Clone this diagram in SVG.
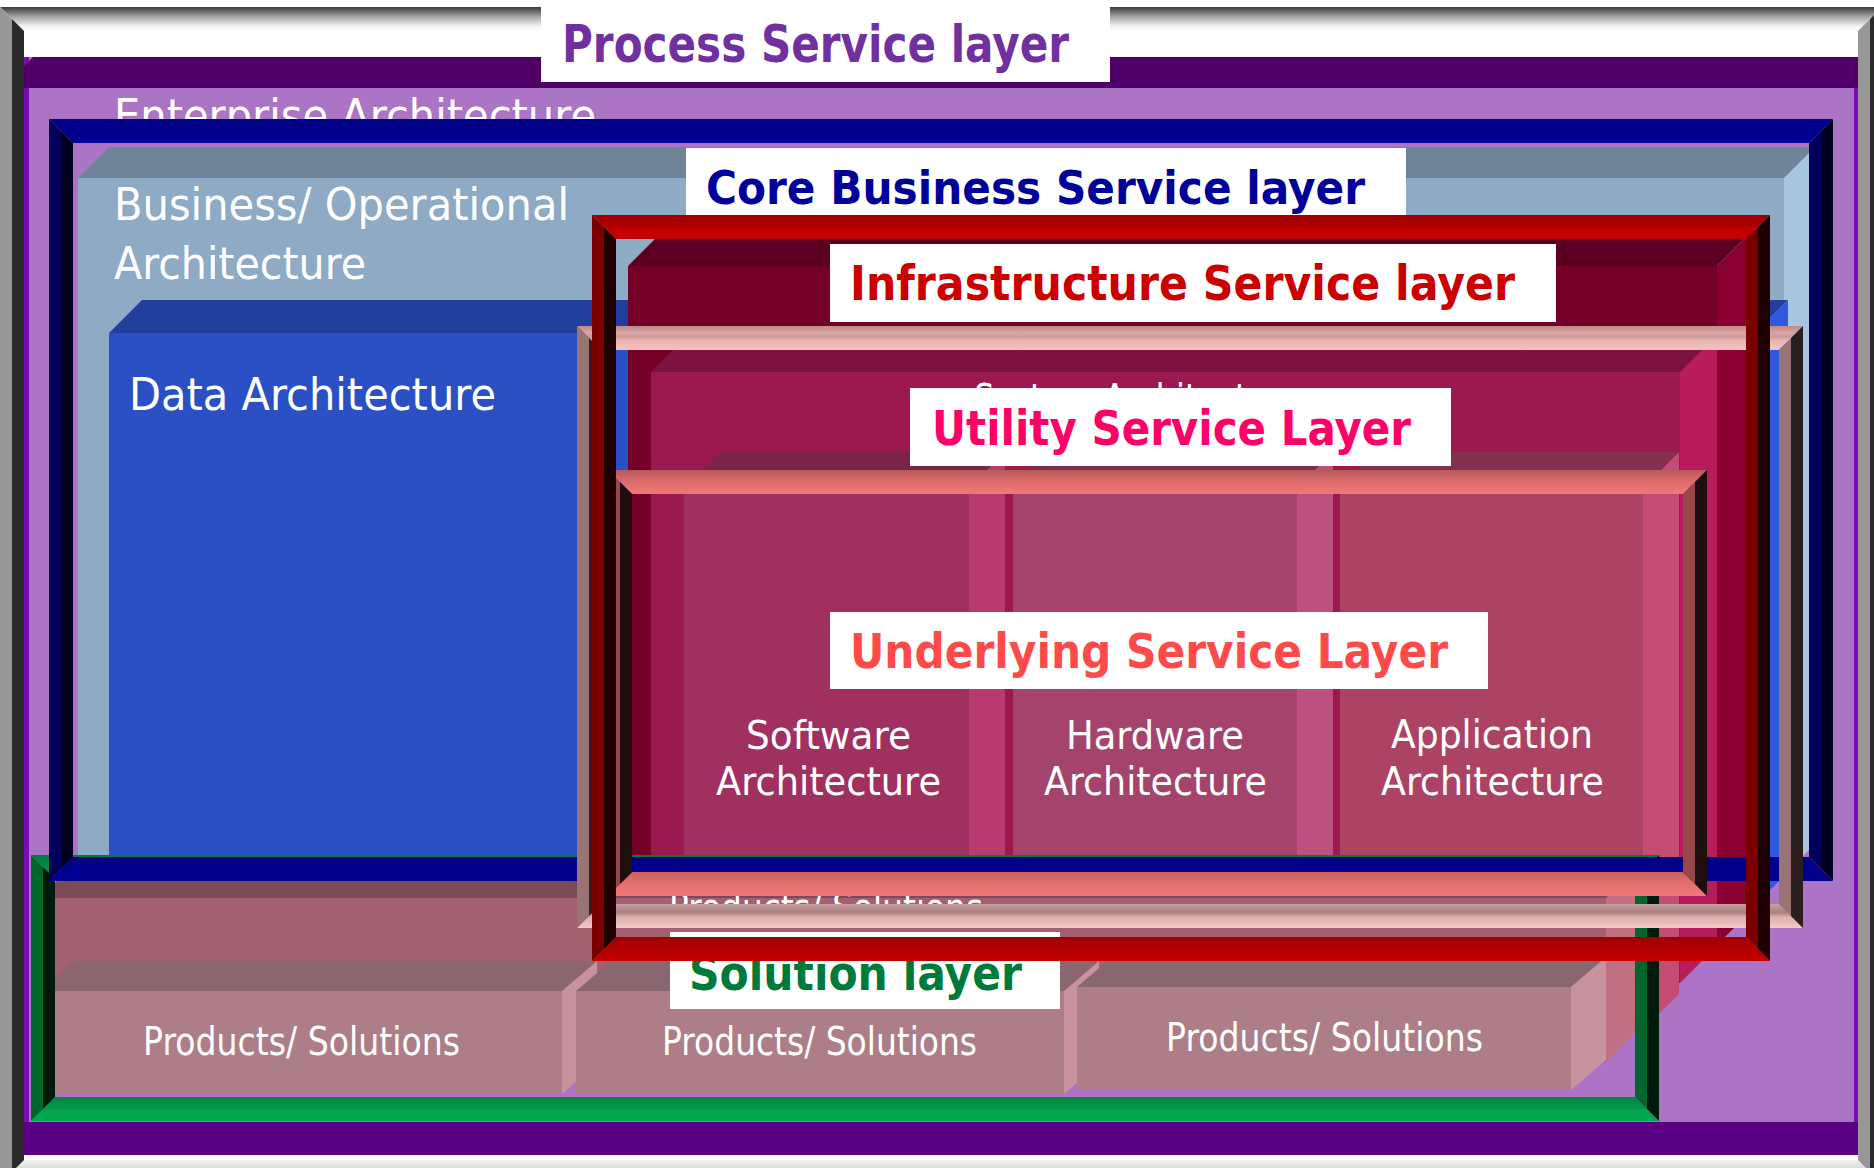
<svg xmlns="http://www.w3.org/2000/svg" width="1874" height="1168" viewBox="0 0 1874 1168">
  <defs>
    <!-- bevelled frame shading: top/bottom bands shade vertically, side bands split light|dark -->
    <linearGradient id="grayTop" x1="0" y1="0" x2="0" y2="1"><stop offset="0" stop-color="#383838"/><stop offset="0.4" stop-color="#a4a4a4"/><stop offset="0.8" stop-color="#f2f2f2"/><stop offset="1" stop-color="#ffffff"/></linearGradient>
    <linearGradient id="graySide" x1="0" y1="0" x2="1" y2="0"><stop offset="0" stop-color="#979797"/><stop offset="0.5" stop-color="#979797"/><stop offset="0.5" stop-color="#2a2a2a"/><stop offset="1" stop-color="#2a2a2a"/></linearGradient>
    <linearGradient id="grayBot" x1="0" y1="0" x2="0" y2="1"><stop offset="0" stop-color="#f0f0f0"/><stop offset="1" stop-color="#b8b8b8"/></linearGradient>

    <linearGradient id="navyTop" x1="0" y1="0" x2="0" y2="1"><stop offset="0" stop-color="#000084"/><stop offset="1" stop-color="#000094"/></linearGradient>
    <linearGradient id="navySide" x1="0" y1="0" x2="1" y2="0"><stop offset="0" stop-color="#00005c"/><stop offset="0.5" stop-color="#00005c"/><stop offset="0.5" stop-color="#00001e"/><stop offset="1" stop-color="#00001e"/></linearGradient>
    <linearGradient id="navyBot" x1="0" y1="0" x2="0" y2="1"><stop offset="0" stop-color="#000080"/><stop offset="0.5" stop-color="#000090"/><stop offset="1" stop-color="#00008a"/></linearGradient>

    <linearGradient id="greenTop" x1="0" y1="0" x2="0" y2="1"><stop offset="0" stop-color="#007a3c"/><stop offset="1" stop-color="#00a04c"/></linearGradient>
    <linearGradient id="greenSide" x1="0" y1="0" x2="1" y2="0"><stop offset="0" stop-color="#00662e"/><stop offset="0.5" stop-color="#00662e"/><stop offset="0.5" stop-color="#001a0c"/><stop offset="1" stop-color="#001a0c"/></linearGradient>
    <linearGradient id="greenBot" x1="0" y1="0" x2="0" y2="1"><stop offset="0" stop-color="#008842"/><stop offset="0.45" stop-color="#00964a"/><stop offset="0.55" stop-color="#00a44c"/><stop offset="1" stop-color="#00aa4e"/></linearGradient>

    <linearGradient id="redTop" x1="0" y1="0" x2="0" y2="1"><stop offset="0" stop-color="#9c0000"/><stop offset="0.5" stop-color="#b00000"/><stop offset="0.55" stop-color="#c40000"/><stop offset="1" stop-color="#c00000"/></linearGradient>
    <linearGradient id="redSide" x1="0" y1="0" x2="1" y2="0"><stop offset="0" stop-color="#7a0000"/><stop offset="0.5" stop-color="#7a0000"/><stop offset="0.5" stop-color="#1e0000"/><stop offset="1" stop-color="#1e0000"/></linearGradient>
    <linearGradient id="redBot" x1="0" y1="0" x2="0" y2="1"><stop offset="0" stop-color="#a00000"/><stop offset="0.5" stop-color="#b20000"/><stop offset="1" stop-color="#c60000"/></linearGradient>

    <linearGradient id="pinkTop" x1="0" y1="0" x2="0" y2="1"><stop offset="0" stop-color="#c08a8a"/><stop offset="0.3" stop-color="#dca4a4"/><stop offset="0.45" stop-color="#cc9a9a"/><stop offset="0.6" stop-color="#ecb4b4"/><stop offset="1" stop-color="#f4c2c2"/></linearGradient>
    <linearGradient id="pinkSide" x1="0" y1="0" x2="1" y2="0"><stop offset="0" stop-color="#9a7474"/><stop offset="0.5" stop-color="#9a7474"/><stop offset="0.5" stop-color="#2a1e1e"/><stop offset="1" stop-color="#2a1e1e"/></linearGradient>
    <linearGradient id="pinkBot" x1="0" y1="0" x2="0" y2="1"><stop offset="0" stop-color="#c9a0a0"/><stop offset="0.35" stop-color="#a88080"/><stop offset="0.55" stop-color="#dcb0b0"/><stop offset="1" stop-color="#f6c8c8"/></linearGradient>

    <linearGradient id="salmonTop" x1="0" y1="0" x2="0" y2="1"><stop offset="0" stop-color="#b85a5a"/><stop offset="0.5" stop-color="#e06c6c"/><stop offset="1" stop-color="#f27878"/></linearGradient>
    <linearGradient id="salmonSide" x1="0" y1="0" x2="1" y2="0"><stop offset="0" stop-color="#964848"/><stop offset="0.5" stop-color="#964848"/><stop offset="0.5" stop-color="#1e0e0e"/><stop offset="1" stop-color="#1e0e0e"/></linearGradient>
    <linearGradient id="salmonBot" x1="0" y1="0" x2="0" y2="1"><stop offset="0" stop-color="#c86060"/><stop offset="0.5" stop-color="#e47070"/><stop offset="1" stop-color="#f27676"/></linearGradient>

    <!-- the System Architecture caption only shows above the Utility label -->
    <clipPath id="sysCaptionClip"><rect x="900" y="360" width="500" height="28"/></clipPath>
  </defs>

  <style>
    .body { font-family: "DejaVu Sans", "Liberation Sans", sans-serif; fill: #ffffff; }
    .label { font-family: "DejaVu Sans", "Liberation Sans", sans-serif; font-weight: bold; }
    .box { fill: #ffffff; }
    .ps-front { fill: #ad7e88; } .ps-top { fill: #896670; } .ps-right { fill: #c8929e; }
  </style>

  <rect width="1874" height="1168" fill="#ffffff"/>

  <!-- Process Service layer: outer grey frame -->
  <g id="process-layer-frame">
    <polygon points="0,7 1882,7 1858,31 24,31" fill="url(#grayTop)"/>
    <polygon points="0,1184 1882,1184 1858,1160 24,1160" fill="url(#grayBot)"/>
    <polygon points="0,7 24,31 24,1160 0,1184" fill="url(#graySide)"/>
    <polygon points="1882,7 1858,31 1858,1160 1882,1184" fill="url(#graySide)"/>
  </g>

  <!-- Enterprise Architecture -->
  <g id="enterprise-architecture">
    <rect x="24" y="57" width="1834" height="1098" fill="#ac74c4"/>
    <rect x="24" y="57" width="5" height="1098" fill="#7a0cb0"/>
    <rect x="1854" y="57" width="4" height="1098" fill="#7a0cb0"/>
    <polygon points="24,66 33,57 1858,57 1858,88 24,88" fill="#4e0068"/>
    <rect x="24" y="1122" width="1834" height="33" fill="#5a0082"/>
    <text class="body" x="114" y="131" font-size="45" textLength="482" lengthAdjust="spacingAndGlyphs">Enterprise Architecture</text>
  </g>

  <g id="process-layer-label">
    <rect class="box" x="541" y="0" width="569" height="82"/>
    <text class="label" x="562" y="62" font-size="51" fill="#7030a0" textLength="507" lengthAdjust="spacingAndGlyphs">Process Service layer</text>
  </g>

  <!-- Business / Operational Architecture cube -->
  <g id="business-architecture">
    <rect x="78" y="178" width="1706" height="697" fill="#8eaac4"/>
    <polygon points="78,178 1784,178 1815,147 109,147" fill="#6f8499"/>
    <polygon points="1784,178 1815,147 1815,844 1784,875" fill="#a8c6e0"/>
    <text class="body" x="114" y="220" font-size="45" textLength="455" lengthAdjust="spacingAndGlyphs">Business/ Operational</text>
    <text class="body" x="114" y="279" font-size="45" textLength="252" lengthAdjust="spacingAndGlyphs">Architecture</text>
  </g>

  <!-- Data Architecture cube -->
  <g id="data-architecture">
    <rect x="109" y="333" width="1646" height="572" fill="#2a50c4"/>
    <polygon points="109,333 1755,333 1788,300 142,300" fill="#203e9a"/>
    <polygon points="1755,333 1788,300 1788,872 1755,905" fill="#2f5ae0"/>
    <text class="body" x="129" y="410" font-size="45" textLength="367" lengthAdjust="spacingAndGlyphs">Data Architecture</text>
  </g>

  <g id="core-business-layer-label">
    <rect class="box" x="686" y="148" width="720" height="82"/>
    <text class="label" x="706" y="204" font-size="47" fill="#00009a" textLength="659" lengthAdjust="spacingAndGlyphs">Core Business Service layer</text>
  </g>

  <!-- infrastructure block inside the red frame -->
  <g id="infrastructure-block">
    <rect x="628" y="266" width="1089" height="679" fill="#740028"/>
    <polygon points="628,266 1717,266 1754,229 665,229" fill="#5c0022"/>
    <polygon points="1717,266 1754,229 1754,908 1717,945" fill="#8a0030"/>
  </g>

  <!-- System Architecture cube -->
  <g id="system-architecture">
    <rect x="651" y="372" width="1029" height="611" fill="#9c1850"/>
    <polygon points="651,372 1680,372 1717,335 688,335" fill="#7c1240"/>
    <polygon points="1680,372 1717,335 1717,946 1680,983" fill="#b81c5c"/>
    <text class="body" x="974" y="413" font-size="40" textLength="326" lengthAdjust="spacingAndGlyphs" clip-path="url(#sysCaptionClip)">System Architecture</text>
  </g>

  <!-- Software / Hardware / Application cubes -->
  <g id="software-architecture">
    <rect x="684" y="488" width="285" height="542" fill="#a03060"/>
    <polygon points="684,488 969,488 1005,452 720,452" fill="#7a2448"/>
    <polygon points="969,488 1005,452 1005,994 969,1030" fill="#b83a70"/>
    <text class="body" x="746" y="749" font-size="39" textLength="165" lengthAdjust="spacingAndGlyphs">Software</text>
    <text class="body" x="716" y="795" font-size="39" textLength="225" lengthAdjust="spacingAndGlyphs">Architecture</text>
  </g>
  <g id="hardware-architecture">
    <rect x="1013" y="488" width="284" height="542" fill="#a4446c"/>
    <polygon points="1013,488 1297,488 1333,452 1049,452" fill="#7e2c50"/>
    <polygon points="1297,488 1333,452 1333,994 1297,1030" fill="#bc5080"/>
    <text class="body" x="1066" y="749" font-size="39" textLength="178" lengthAdjust="spacingAndGlyphs">Hardware</text>
    <text class="body" x="1044" y="795" font-size="39" textLength="223" lengthAdjust="spacingAndGlyphs">Architecture</text>
  </g>
  <g id="application-architecture">
    <rect x="1340" y="488" width="303" height="542" fill="#ac4264"/>
    <polygon points="1340,488 1643,488 1679,452 1376,452" fill="#82304c"/>
    <polygon points="1643,488 1679,452 1679,994 1643,1030" fill="#c44c74"/>
    <text class="body" x="1391" y="748" font-size="39" textLength="202" lengthAdjust="spacingAndGlyphs">Application</text>
    <text class="body" x="1381" y="795" font-size="39" textLength="223" lengthAdjust="spacingAndGlyphs">Architecture</text>
  </g>

  <!-- Products / Solutions cubes -->
  <g id="products-back">
    <rect x="40" y="898" width="1566" height="164" fill="#a36070"/>
    <polygon points="40,898 1606,898 1639,865 73,865" fill="#7f4a58"/>
    <polygon points="1606,898 1639,865 1639,1029 1606,1062" fill="#c07080"/>
    <text class="body" x="669" y="921" font-size="38.5" textLength="314" lengthAdjust="spacingAndGlyphs">Products/ Solutions</text>
  </g>
  <g id="products-1">
    <rect class="ps-front" x="40" y="991" width="522" height="103"/>
    <polygon class="ps-top" points="40,991 562,991 597,961 75,961"/>
    <polygon class="ps-right" points="562,991 597,961 597,1064 562,1094"/>
    <text class="body" x="143" y="1055" font-size="38.5" textLength="317" lengthAdjust="spacingAndGlyphs">Products/ Solutions</text>
  </g>
  <g id="products-2">
    <rect class="ps-front" x="576" y="991" width="488" height="103"/>
    <polygon class="ps-top" points="576,991 1064,991 1099,961 611,961"/>
    <polygon class="ps-right" points="1064,991 1099,961 1099,1064 1064,1094"/>
    <text class="body" x="662" y="1055" font-size="38.5" textLength="315" lengthAdjust="spacingAndGlyphs">Products/ Solutions</text>
  </g>
  <g id="products-3">
    <rect class="ps-front" x="1077" y="987" width="494" height="103"/>
    <polygon class="ps-top" points="1077,987 1571,987 1606,957 1112,957"/>
    <polygon class="ps-right" points="1571,987 1606,957 1606,1060 1571,1090"/>
    <text class="body" x="1166" y="1051" font-size="38.5" textLength="317" lengthAdjust="spacingAndGlyphs">Products/ Solutions</text>
  </g>

  <!-- Solution layer: green frame -->
  <g id="solution-layer-frame">
    <polygon points="31,855 1659,855 1635,879 55,879" fill="url(#greenTop)"/>
    <polygon points="31,1121 1659,1121 1635,1097 55,1097" fill="url(#greenBot)"/>
    <polygon points="31,855 55,879 55,1097 31,1121" fill="url(#greenSide)"/>
    <polygon points="1659,855 1635,879 1635,1097 1659,1121" fill="url(#greenSide)"/>
  </g>

  <!-- Core Business Service layer: navy frame -->
  <g id="core-business-layer-frame">
    <polygon points="49,119 1833,119 1809,143 73,143" fill="url(#navyTop)"/>
    <polygon points="49,881 1833,881 1809,857 73,857" fill="url(#navyBot)"/>
    <polygon points="49,119 73,143 73,857 49,881" fill="url(#navySide)"/>
    <polygon points="1833,119 1809,143 1809,857 1833,881" fill="url(#navySide)"/>
  </g>

  <g id="utility-layer-label">
    <rect class="box" x="910" y="388" width="541" height="78"/>
    <text class="label" x="932" y="445" font-size="48" fill="#ff0066" textLength="479" lengthAdjust="spacingAndGlyphs">Utility Service Layer</text>
  </g>

  <!-- Utility Service Layer: pale pink frame -->
  <g id="utility-layer-frame">
    <polygon points="577,326 1803,326 1779,350 601,350" fill="url(#pinkTop)"/>
    <polygon points="577,928 1803,928 1779,904 601,904" fill="url(#pinkBot)"/>
    <polygon points="577,326 601,350 601,904 577,928" fill="url(#pinkSide)"/>
    <polygon points="1803,326 1779,350 1779,904 1803,928" fill="url(#pinkSide)"/>
  </g>

  <!-- Underlying Service Layer: salmon frame -->
  <g id="underlying-layer-frame">
    <polygon points="608,470 1707,470 1683,494 632,494" fill="url(#salmonTop)"/>
    <polygon points="608,896 1707,896 1683,872 632,872" fill="url(#salmonBot)"/>
    <polygon points="608,470 632,494 632,872 608,896" fill="url(#salmonSide)"/>
    <polygon points="1707,470 1683,494 1683,872 1707,896" fill="url(#salmonSide)"/>
  </g>

  <g id="underlying-layer-label">
    <rect class="box" x="830" y="612" width="658" height="77"/>
    <text class="label" x="850" y="668" font-size="48" fill="#ff4a4a" textLength="598" lengthAdjust="spacingAndGlyphs">Underlying Service Layer</text>
  </g>

  <g id="solution-layer-label">
    <rect class="box" x="670" y="932" width="390" height="77"/>
    <text class="label" x="689" y="990" font-size="48" fill="#007a3a" textLength="333" lengthAdjust="spacingAndGlyphs">Solution layer</text>
  </g>

  <!-- Infrastructure Service layer: red frame -->
  <g id="infrastructure-layer-frame">
    <polygon points="592,215 1770,215 1746,239 616,239" fill="url(#redTop)"/>
    <polygon points="592,961 1770,961 1746,937 616,937" fill="url(#redBot)"/>
    <polygon points="592,215 616,239 616,937 592,961" fill="url(#redSide)"/>
    <polygon points="1770,215 1746,239 1746,937 1770,961" fill="url(#redSide)"/>
  </g>

  <g id="infrastructure-layer-label">
    <rect class="box" x="830" y="244" width="726" height="78"/>
    <text class="label" x="850" y="300" font-size="48" fill="#cc0000" textLength="665" lengthAdjust="spacingAndGlyphs">Infrastructure Service layer</text>
  </g>

  <g id="connectors"/>
</svg>
